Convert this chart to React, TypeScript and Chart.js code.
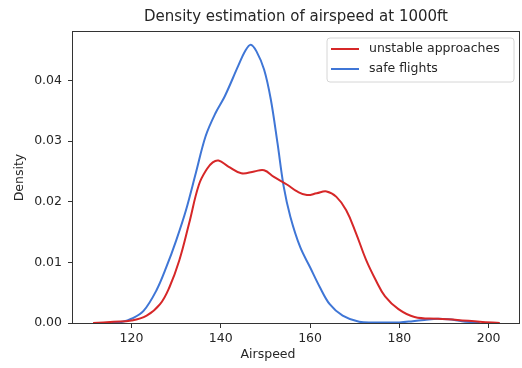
import React, { useEffect, useRef } from "react";
import { Chart, registerables } from "chart.js";

Chart.register(...registerables);

const unstableX = [111.4, 116, 120, 123.4, 126.4, 128.5, 130.7, 132.9, 135.1, 136.9, 138.2, 139.5, 141.7, 144.6, 147.5, 149.7, 151.9, 154.9, 157.1, 159.3, 161.5, 163.7, 165.9, 168.1, 170.3, 172.5, 174.7, 176.8, 179.8, 183.4, 188.6, 193, 198, 202.5];
const unstableY = [0, 0.0002, 0.0004, 0.0012, 0.0031, 0.0059, 0.0103, 0.0164, 0.0228, 0.0254, 0.0265, 0.0268, 0.0258, 0.0247, 0.025, 0.0252, 0.0241, 0.0228, 0.0217, 0.0211, 0.0214, 0.0217, 0.0208, 0.0186, 0.0148, 0.0105, 0.0071, 0.0044, 0.0023, 0.001, 0.0007, 0.0005, 0.0002, 0];

const safeX = [115.5, 118, 120, 122.7, 125.6, 127.8, 130, 132.2, 134.4, 136.6, 138.8, 140.9, 143.9, 145.5, 146.7, 148, 149.7, 151.2, 152.7, 154.1, 155.6, 157.8, 160, 162.2, 164.4, 167.3, 171, 175, 180, 183, 185.6, 188.6, 191, 194, 198];
const safeY = [0, 0.0002, 0.0007, 0.002, 0.0054, 0.0092, 0.0136, 0.0186, 0.0247, 0.0308, 0.0346, 0.0374, 0.0424, 0.0449, 0.0459, 0.0448, 0.0418, 0.0369, 0.0297, 0.0225, 0.0175, 0.0125, 0.0092, 0.0059, 0.0031, 0.0012, 0.0002, 0.0001, 0.0001, 0.0003, 0.0005, 0.0007, 0.0006, 0.0003, 0];

const xTicks = [120, 140, 160, 180, 200];
const yTicks = [0, 0.01, 0.02, 0.03, 0.04];

const seriesLabels = ["unstable approaches", "safe flights"];
const titleText = "Density estimation of airspeed at 1000ft";
const xTitle = "Airspeed";
const yTitle = "Density";

const FONT = "'DejaVu Sans', sans-serif";
const TEXT = "#262626";
const SPINE = "#333333";

const framePlugin = {
  id: "frame",
  afterDatasetsDraw(chart: any) {
    const { ctx, chartArea } = chart;
    const { left, top, right, bottom } = chartArea;
    ctx.save();
    ctx.strokeStyle = SPINE;
    ctx.lineWidth = 1;
    ctx.strokeRect(Math.round(left) - 0.5, Math.round(top) - 0.5, Math.round(right - left) + 1, Math.round(bottom - top) + 1);
    ctx.restore();
  },
  afterDraw(chart: any) {
    const { ctx } = chart;
    ctx.save();
    ctx.fillStyle = TEXT;
    ctx.font = `12.5px ${FONT}`;
    ctx.textAlign = "center";
    ctx.textBaseline = "middle";
    ctx.fillText(xTitle, 268, 355);
    const bx = 327, by = 38, bw = 187, bh = 44, r = 3;
    ctx.beginPath();
    ctx.moveTo(bx + r, by);
    ctx.lineTo(bx + bw - r, by);
    ctx.quadraticCurveTo(bx + bw, by, bx + bw, by + r);
    ctx.lineTo(bx + bw, by + bh - r);
    ctx.quadraticCurveTo(bx + bw, by + bh, bx + bw - r, by + bh);
    ctx.lineTo(bx + r, by + bh);
    ctx.quadraticCurveTo(bx, by + bh, bx, by + bh - r);
    ctx.lineTo(bx, by + r);
    ctx.quadraticCurveTo(bx, by, bx + r, by);
    ctx.closePath();
    ctx.fillStyle = "rgba(255,255,255,0.8)";
    ctx.fill();
    ctx.strokeStyle = "#d6d6d6";
    ctx.lineWidth = 1;
    ctx.stroke();
    chart.data.datasets.forEach((ds: any, i: number) => {
      const y = 49 + i * 20;
      ctx.strokeStyle = ds.borderColor;
      ctx.lineWidth = 2;
      ctx.beginPath();
      ctx.moveTo(331, y);
      ctx.lineTo(359, y);
      ctx.stroke();
      ctx.fillStyle = TEXT;
      ctx.textAlign = "left";
      ctx.textBaseline = "middle";
      ctx.font = `12.5px ${FONT}`;
      ctx.fillText(ds.label, 369, y);
    });
    ctx.restore();
  },
};

export default function App() {
  const ref = useRef<HTMLCanvasElement>(null);
  useEffect(() => {
    if (!ref.current) return;
    const chart = new Chart(ref.current, {
      type: "line",
      data: {
        datasets: [
          {
            label: seriesLabels[0],
            data: unstableX.map((x, i) => ({ x, y: unstableY[i] })),
            borderColor: "#d62728",
            borderWidth: 2,
            pointRadius: 0,
            tension: 0.4,
            fill: false,
          },
          {
            label: seriesLabels[1],
            data: safeX.map((x, i) => ({ x, y: safeY[i] })),
            borderColor: "#3f76d6",
            borderWidth: 2,
            pointRadius: 0,
            tension: 0.35,
            fill: false,
          },
        ],
      },
      options: {
        animation: false,
        responsive: false,
        layout: { padding: { left: 0, right: 3, top: 0, bottom: 0 } },
        plugins: {
          legend: { display: false },
          tooltip: { enabled: false },
          title: {
            display: true,
            text: titleText,
            fullSize: false,
            color: TEXT,
            font: { family: FONT, size: 15, weight: "normal", lineHeight: 1.2 },
            padding: { top: 8, bottom: 6 },
          },
        },
        scales: {
          x: {
            type: "linear",
            min: 106.9,
            max: 206.8,
            afterBuildTicks: (s: any) => {
              s.ticks = xTicks.map((v) => ({ value: v }));
            },
            afterFit: (s: any) => {
              s.height = 45;
            },
            ticks: {
              color: TEXT,
              padding: 3,
              font: { family: FONT, size: 12.5 },
              callback: (v: any) => String(v),
              maxRotation: 0,
            },
            grid: { display: true, drawOnChartArea: false, drawTicks: true, tickLength: 5, color: SPINE },
            border: { display: false },
          },
          y: {
            type: "linear",
            min: 0,
            max: 0.048,
            afterBuildTicks: (s: any) => {
              s.ticks = yTicks.map((v) => ({ value: v }));
            },
            afterFit: (s: any) => {
              s.width = 73;
            },
            ticks: {
              color: TEXT,
              padding: 6,
              font: { family: FONT, size: 12.5 },
              callback: (v: any) => Number(v).toFixed(2),
            },
            grid: { display: true, drawOnChartArea: false, drawTicks: true, tickLength: 5, color: SPINE },
            border: { display: false },
            title: {
              display: true,
              text: yTitle,
              color: TEXT,
              font: { family: FONT, size: 12.5 },
              padding: { top: 12.5, bottom: 0 },
            },
          },
        },
      },
      plugins: [framePlugin],
    } as any);
    return () => chart.destroy();
  }, []);
  return (
    <div style={{ position: "fixed", left: 0, top: 0, width: 522, height: 368, background: "#fff" }}>
      <canvas ref={ref} width={522} height={368} style={{ width: 522, height: 368, display: "block" }} />
    </div>
  );
}
